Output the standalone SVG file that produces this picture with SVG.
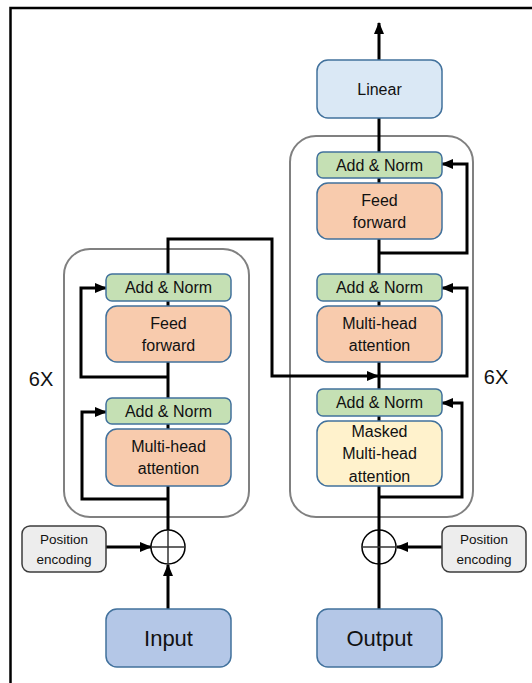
<svg xmlns="http://www.w3.org/2000/svg" width="532" height="683" viewBox="0 0 532 683">
<style>
text{font-family:"Liberation Sans","Open Sans",Arial,sans-serif;fill:#111;text-anchor:middle;dominant-baseline:central}
.t{font-size:16px}
.big{font-size:22px}
.sm{font-size:13.5px}
.x6{font-size:20px}
.node{stroke:#41719c;stroke-width:1.5}
.an{fill:#c5e0b4}
.op{fill:#f8cbad}
.mk{fill:#fff2cc}
.lin{fill:#dae8f5}
.io{fill:#b4c7e7}
.pe{fill:#ededed;stroke:#3c3c3c;stroke-width:1.5}
.grp{fill:none;stroke:#808080;stroke-width:2}
.c{fill:none;stroke:#000;stroke-width:3}
.a{marker-end:url(#ah)}
</style>
<defs>
<marker id="ah" markerUnits="userSpaceOnUse" markerWidth="12" markerHeight="10" refX="11" refY="5" orient="auto">
<path d="M0,0 L12,5 L0,10 z" fill="#000"/>
</marker>
</defs>
<rect width="532" height="683" fill="#fff"/>
<path d="M10.5,683 V8 H532" fill="none" stroke="#000" stroke-width="2.5"/>

<g id="encoder-block"><rect class="grp" x="64" y="249" width="185" height="268" rx="26"/></g>
<g id="decoder-block"><rect class="grp" x="290" y="136" width="183" height="381" rx="26"/></g>

<g id="connectors">
<path class="c a" d="M168,530 V239 H272 V376 H378"/>
<path class="c a" d="M379,609 V23"/>
<path class="c a" d="M168,609 V565"/>
<path class="c a" d="M106,547 H151"/>
<path class="c a" d="M442,547 H397"/>
<path class="c a" d="M168,499 H82 V412 H106"/>
<path class="c a" d="M168,377 H81 V288 H106"/>
<path class="c a" d="M379,497 H462 V403 H442"/>
<path class="c a" d="M379,376 H467 V288 H442"/>
<path class="c a" d="M379,253 H467 V164 H442"/>
</g>

<g id="linear"><rect class="node lin" x="317" y="60" width="125" height="58" rx="11"/><text class="t" x="379.5" y="89">Linear</text></g>

<g id="dec-addnorm3"><rect class="node an" x="317" y="152" width="125" height="26" rx="6"/><text class="t" x="379.5" y="165">Add &amp; Norm</text></g>
<g id="dec-ff"><rect class="node op" x="317" y="183" width="125" height="56" rx="11"/><text class="t" x="379.5" y="200">Feed</text><text class="t" x="379.5" y="222">forward</text></g>
<g id="dec-addnorm2"><rect class="node an" x="317" y="274" width="125" height="27" rx="6"/><text class="t" x="379.5" y="287.5">Add &amp; Norm</text></g>
<g id="dec-mha"><rect class="node op" x="317" y="306" width="125" height="56" rx="11"/><text class="t" x="379.5" y="323">Multi-head</text><text class="t" x="379.5" y="345">attention</text></g>
<g id="dec-addnorm1"><rect class="node an" x="317" y="389" width="125" height="27" rx="6"/><text class="t" x="379.5" y="402.5">Add &amp; Norm</text></g>
<g id="dec-masked"><rect class="node mk" x="317" y="421" width="125" height="65" rx="11"/><text class="t" x="379.5" y="431">Masked</text><text class="t" x="379.5" y="453.5">Multi-head</text><text class="t" x="379.5" y="476">attention</text></g>

<g id="enc-addnorm2"><rect class="node an" x="106" y="274" width="125" height="27" rx="6"/><text class="t" x="168.5" y="287.5">Add &amp; Norm</text></g>
<g id="enc-ff"><rect class="node op" x="106" y="306" width="125" height="56" rx="11"/><text class="t" x="168.5" y="323">Feed</text><text class="t" x="168.5" y="345">forward</text></g>
<g id="enc-addnorm1"><rect class="node an" x="106" y="398" width="125" height="26" rx="6"/><text class="t" x="168.5" y="411">Add &amp; Norm</text></g>
<g id="enc-mha"><rect class="node op" x="106" y="429" width="125" height="57" rx="11"/><text class="t" x="168.5" y="446">Multi-head</text><text class="t" x="168.5" y="468">attention</text></g>

<g id="enc-label"><text class="x6" x="41" y="379">6X</text></g>
<g id="dec-label"><text class="x6" x="496" y="377">6X</text></g>

<g id="enc-add"><circle cx="168" cy="547" r="17" fill="#fff" stroke="#000" stroke-width="1.5"/><path d="M151,547 H185 M168,530 V564" stroke="#333" stroke-width="1.5"/></g>
<g id="dec-add"><circle cx="379" cy="547" r="17" fill="none" stroke="#000" stroke-width="1.5"/><path d="M362,547 H396" stroke="#333" stroke-width="1.5"/></g>

<g id="enc-pos"><rect class="pe" x="22" y="526" width="84" height="46" rx="8"/><text class="sm" x="64" y="539">Position</text><text class="sm" x="64" y="559">encoding</text></g>
<g id="dec-pos"><rect class="pe" x="442" y="526" width="84" height="46" rx="8"/><text class="sm" x="484" y="539">Position</text><text class="sm" x="484" y="559">encoding</text></g>

<g id="input"><rect class="node io" x="106" y="609" width="125" height="58" rx="11"/><text class="big" x="168.5" y="638">Input</text></g>
<g id="output"><rect class="node io" x="317" y="609" width="125" height="58" rx="11"/><text class="big" x="379.5" y="638">Output</text></g>
</svg>
